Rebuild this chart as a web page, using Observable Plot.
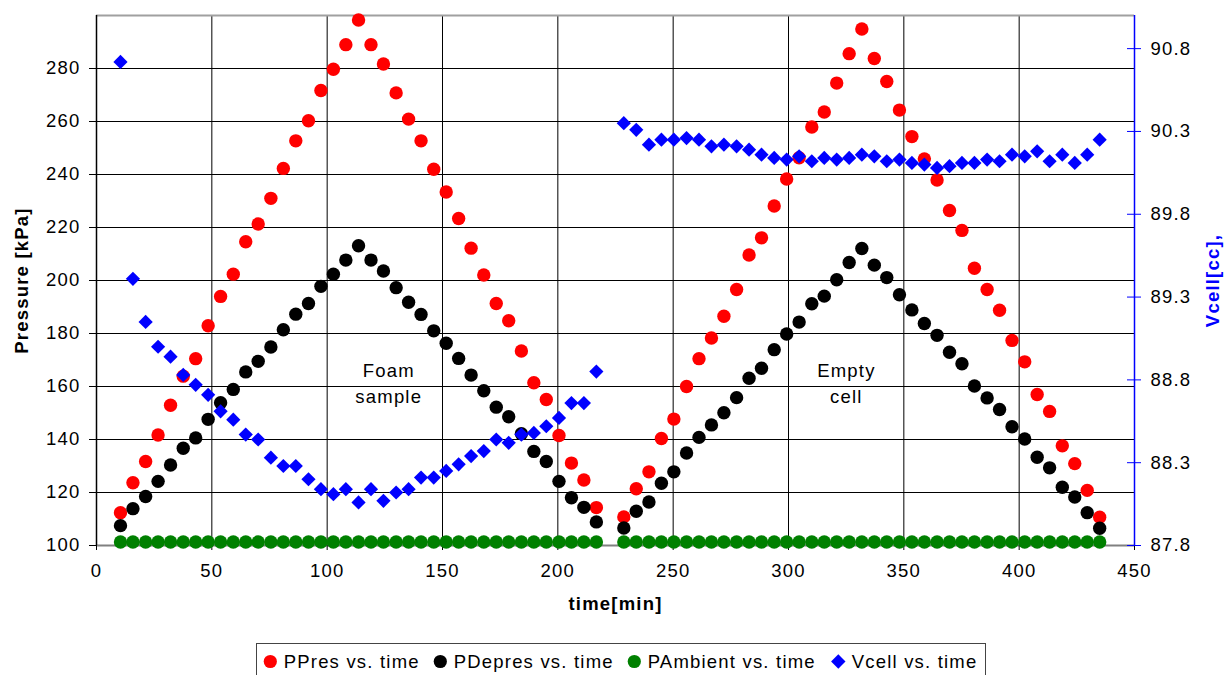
<!DOCTYPE html>
<html>
<head>
<meta charset="utf-8">
<script src="https://cdn.jsdelivr.net/npm/d3@7"></script>
<script src="https://cdn.jsdelivr.net/npm/@observablehq/plot@0.6"></script>
<style>
  html, body { margin: 0; padding: 0; background: #fff; overflow: hidden; }
  #wrap { position: relative; width: 1227px; height: 675px; }
  #legend { position: absolute; left: 256px; top: 643px; width: 730px; height: 40px;
            border: 1px solid #444; box-sizing: border-box; background: #fff; }
  #legend svg { display: block; }
</style>
</head>
<body>
<div id="wrap"><div id="chart"></div><div id="legend"></div></div>
<script>
// ---- data ----
const time = [
  10.4, 15.8, 21.3, 26.7, 32.1, 37.6, 43.0, 48.4, 53.8, 59.3, 64.7, 70.1, 75.6, 81.0, 86.4, 91.9, 97.3, 102.7, 108.1, 113.6,
  119.0, 124.4, 129.9, 135.3, 140.7, 146.2, 151.6, 157.0, 162.4, 167.9, 173.3, 178.7, 184.2, 189.6, 195.0, 200.5, 205.9, 211.3, 216.7,
  228.6, 234.0, 239.5, 244.9, 250.3, 255.8, 261.2, 266.6, 272.0, 277.5, 282.9, 288.3, 293.8, 299.2, 304.6, 310.1, 315.5, 320.9, 326.3, 331.8,
  337.2, 342.6, 348.1, 353.5, 358.9, 364.4, 369.8, 375.2, 380.6, 386.1, 391.5, 396.9, 402.4, 407.8, 413.2, 418.7, 424.1, 429.5, 434.9
];
const pPres = [
  112.4, 123.7, 131.7, 141.7, 152.9, 163.9, 170.5, 182.9, 194.0, 202.4, 214.6, 221.3, 231.0, 242.3, 252.7, 260.3, 271.7, 279.7, 289.0, 298.3,
  289.0, 281.7, 270.8, 260.9, 252.7, 242.0, 233.4, 223.4, 212.2, 202.1, 191.3, 184.8, 173.4, 161.4, 155.1, 141.5, 131.1, 124.7, 114.3,
  110.8, 121.4, 127.8, 140.4, 147.7, 160.0, 170.5, 178.3, 186.5, 196.6, 209.6, 216.1, 228.1, 238.3, 246.3, 257.9, 263.6, 274.5, 285.6, 294.9,
  283.8, 275.1, 264.3, 254.3, 245.9, 237.9, 226.4, 218.9, 204.6, 196.6, 188.8, 177.4, 169.3, 157.0, 150.6, 137.6, 130.9, 120.8, 110.7
];
const pDepres = [
  107.5, 113.9, 118.5, 124.2, 130.4, 136.7, 140.6, 147.6, 153.9, 158.9, 165.5, 169.5, 174.9, 181.4, 187.3, 191.3, 197.8, 202.4, 207.7, 213.1,
  207.7, 203.6, 197.3, 191.8, 187.2, 181.0, 176.3, 170.6, 164.3, 158.4, 152.2, 148.6, 142.2, 135.5, 131.7, 124.2, 118.0, 114.4, 108.9,
  106.6, 112.9, 116.4, 123.5, 127.8, 134.9, 140.8, 145.5, 150.1, 155.8, 163.1, 166.9, 173.9, 179.8, 184.3, 191.2, 194.1, 200.3, 206.8, 212.1,
  205.8, 201.1, 194.6, 188.9, 183.8, 179.3, 172.9, 168.6, 160.2, 155.7, 151.3, 144.8, 140.2, 133.3, 129.3, 122.0, 118.3, 112.4, 106.5
];
const pAmbient = [
  101.3, 101.3, 101.3, 101.3, 101.3, 101.3, 101.3, 101.3, 101.3, 101.3, 101.3, 101.3, 101.3, 101.3, 101.3, 101.3, 101.3, 101.3, 101.3, 101.3,
  101.3, 101.3, 101.3, 101.3, 101.3, 101.3, 101.3, 101.3, 101.3, 101.3, 101.3, 101.3, 101.3, 101.3, 101.3, 101.3, 101.3, 101.3, 101.3,
  101.3, 101.3, 101.3, 101.3, 101.3, 101.3, 101.3, 101.3, 101.3, 101.3, 101.3, 101.3, 101.3, 101.3, 101.3, 101.3, 101.3, 101.3, 101.3, 101.3,
  101.3, 101.3, 101.3, 101.3, 101.3, 101.3, 101.3, 101.3, 101.3, 101.3, 101.3, 101.3, 101.3, 101.3, 101.3, 101.3, 101.3, 101.3, 101.3
];
const vCell = [
  90.72, 89.41, 89.15, 89.00, 88.94, 88.83, 88.77, 88.71, 88.61, 88.56, 88.47, 88.44, 88.33, 88.28, 88.28, 88.20, 88.14, 88.11, 88.14, 88.06,
  88.14, 88.07, 88.12, 88.14, 88.21, 88.21, 88.25, 88.29, 88.34, 88.37, 88.44, 88.42, 88.47, 88.48, 88.52, 88.57, 88.66, 88.66, 88.85,
  90.35, 90.31, 90.22, 90.25, 90.25, 90.26, 90.25, 90.21, 90.22, 90.21, 90.19, 90.16, 90.14, 90.13, 90.15, 90.12, 90.14, 90.13, 90.14, 90.16,
  90.15, 90.12, 90.13, 90.11, 90.10, 90.08, 90.09, 90.11, 90.11, 90.13, 90.12, 90.16, 90.15, 90.18, 90.12, 90.16, 90.11, 90.16, 90.25
];
const xTicks = [0, 50, 100, 150, 200, 250, 300, 350, 400, 450];
const yTicks = [100, 120, 140, 160, 180, 200, 220, 240, 260, 280];
const vTicks = [87.8, 88.3, 88.8, 89.3, 89.8, 90.3, 90.8];
const vTickLabels = ["87.8", "88.3", "88.8", "89.3", "89.8", "90.3", "90.8"];
const noteX = [126.7, 325.1];
const noteY = [161.9, 161.9];
const noteText = ["Foam\nsample", "Empty\ncell"];
const seriesNames = ["PPres vs. time", "PDepres vs. time", "PAmbient vs. time", "Vcell vs. time"];
const seriesColors = ["#ff0000", "#000000", "#008000", "#0000ff"];

// secondary axis (Vcell) domain mapped onto the primary pressure domain
const pDomain = [100, 300];
const vDomain = [87.8, 91.0];
const vToP = v => pDomain[0] + (v - vDomain[0]) * (pDomain[1] - pDomain[0]) / (vDomain[1] - vDomain[0]);

const rows = time.map((t, i) => ({t, pres: pPres[i], depres: pDepres[i], amb: pAmbient[i], v: vCell[i]}));
const notes = noteX.map((x, i) => ({x, y: noteY[i], text: noteText[i]}));
const vPos = vTicks.map(vToP);
const vFmt = p => vTickLabels[vPos.findIndex(q => Math.abs(q - p) < 1e-6)];
const xDomain = [0, 450];
const tickHalf = 7 * (xDomain[1] - xDomain[0]) / (1227 - 96 - 93); // 7px in x units

const FONT = "'Liberation Sans', Arial, sans-serif";

const chart = Plot.plot({
  width: 1227,
  height: 640,
  marginLeft: 96,
  marginRight: 93,
  marginTop: 15,
  marginBottom: 95,
  style: {fontFamily: FONT, fontSize: "18.5px", letterSpacing: "1.2px", color: "#000", background: "#fff", overflow: "visible"},
  x: {domain: xDomain},
  y: {domain: pDomain},
  marks: [
    Plot.ruleX(xTicks.filter(d => d > 0 && d < 450), {stroke: "#000", strokeWidth: 1}),
    Plot.ruleY(yTicks.filter(d => d > 100), {stroke: "#000", strokeWidth: 1}),
    Plot.ruleY([100], {stroke: "#808080", strokeWidth: 2}),
    Plot.ruleY([300], {stroke: "#a0a0a0", strokeWidth: 2}),
    Plot.ruleX([0], {stroke: "#000", strokeWidth: 1.5}),
    Plot.ruleX([450], {stroke: "#0000ff", strokeWidth: 1.5}),
    Plot.axisX({ticks: xTicks, tickSize: 5, tickPadding: 13, label: null, stroke: "#000"}),
    Plot.axisY({ticks: yTicks, tickSize: 7, tickPadding: 9, label: null}),
    Plot.ruleY(vPos, {x1: xDomain[1] - tickHalf, x2: xDomain[1] + tickHalf, stroke: "#0000ff", strokeWidth: 1}),
    Plot.axisY({anchor: "right", ticks: vPos, tickFormat: vFmt, tickSize: 0, tickPadding: 16, label: null}),
    Plot.text(["Pressure [kPa]"], {frameAnchor: "left", dx: -74, rotate: -90, textAnchor: "middle", fontWeight: "bold"}),
    Plot.text(["Vcell[cc],"], {frameAnchor: "right", dx: 79, rotate: -90, textAnchor: "middle", fontWeight: "bold", fill: "#0000ff"}),
    Plot.text(["time[min]"], {frameAnchor: "bottom", dy: 64, fontWeight: "bold"}),
    Plot.text(notes, {x: "x", y: "y", text: "text", lineHeight: 1.4}),
    Plot.dot(rows, {x: "t", y: "pres", r: 6.7, fill: seriesColors[0]}),
    Plot.dot(rows, {x: "t", y: "depres", r: 6.7, fill: seriesColors[1]}),
    Plot.dot(rows, {x: "t", y: "amb", r: 6.7, fill: seriesColors[2]}),
    Plot.dot(rows, {x: "t", y: d => vToP(d.v), symbol: "diamond2", r: 6.4, fill: seriesColors[3]})
  ]
});
document.getElementById("chart").appendChild(chart);

// ---- legend (below the chart) ----
const legendX = [13.3, 183.3, 377.3, 581.3];
const ns = "http://www.w3.org/2000/svg";
const lg = document.createElementNS(ns, "svg");
lg.setAttribute("width", 728);
lg.setAttribute("height", 38);
lg.style.fontFamily = FONT;
lg.style.fontSize = "18.5px";
lg.style.letterSpacing = "1.2px";
seriesNames.forEach((name, i) => {
  const cx = legendX[i], cy = 17.5;
  let m;
  if (i === 3) {
    m = document.createElementNS(ns, "path");
    m.setAttribute("d", `M${cx},${cy - 7.2}L${cx + 7.2},${cy}L${cx},${cy + 7.2}L${cx - 7.2},${cy}Z`);
  } else {
    m = document.createElementNS(ns, "circle");
    m.setAttribute("cx", cx); m.setAttribute("cy", cy); m.setAttribute("r", 6.6);
  }
  m.setAttribute("fill", seriesColors[i]);
  lg.appendChild(m);
  const t = document.createElementNS(ns, "text");
  t.setAttribute("x", cx + 13.4);
  t.setAttribute("y", 23.5);
  t.setAttribute("fill", "#000");
  t.textContent = name;
  lg.appendChild(t);
});
document.getElementById("legend").appendChild(lg);
</script>
</body>
</html>
